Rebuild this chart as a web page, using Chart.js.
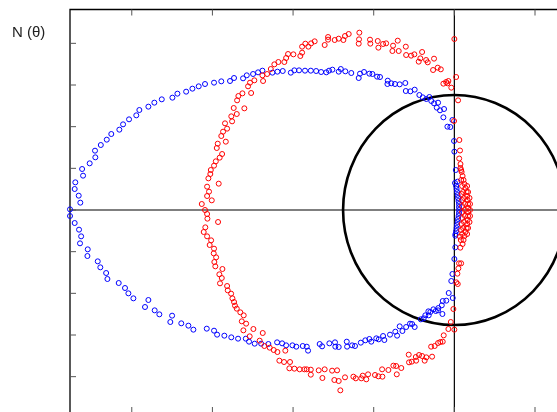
<!DOCTYPE html>
<html>
<head>
<meta charset="utf-8">
<script src="https://cdn.jsdelivr.net/npm/chart.js@4.4.0/dist/chart.umd.min.js"></script>
<style>
  html, body { margin: 0; padding: 0; background: #fff; overflow: hidden; }
  #wrap { position: relative; width: 557px; height: 412px; overflow: hidden; }
  #wrap canvas { position: absolute; left: 0; top: 0; }
  #label { position: absolute; left: 12px; top: 24px; font: 15px "Liberation Sans", Arial, sans-serif; line-height: 15px; color: #222; white-space: nowrap; }
</style>
</head>
<body>
<div id="wrap">
  <canvas id="c" width="640" height="420"></canvas>
  <div id="label">N (θ)</div>
</div>
<script>
// blue measurement (real / imaginary part)
const blueRe = [
  0.029,0.029,0.029,0.026,0.023,0.020,0.017,0.014,0.011,0.004,
  0.019,0.009,0.000,-0.002,-0.012,-0.025,-0.043,-0.068,-0.064,-0.089,
  -0.109,-0.101,-0.126,-0.143,-0.155,-0.174,-0.196,-0.217,-0.246,-0.273,
  -0.301,-0.304,-0.339,-0.368,-0.391,-0.415,-0.413,-0.461,-0.479,-0.508,
  -0.527,-0.560,-0.585,-0.593,-0.639,-0.676,-0.704,-0.717,-0.756,-0.777,
  -0.794,-0.826,-0.857,-0.890,-0.926,-0.963,-0.992,-1.014,-1.064,-1.097,
  -1.128,-1.190,-1.217,-1.248,-1.287,-1.310,-1.366,-1.391,-1.445,-1.490,
  -1.546,-1.585,-1.624,-1.663,-1.717,-1.748,-1.814,-1.860,-1.897,-1.953,
  -1.972,-2.017,-2.054,-2.077,-2.127,-2.155,-2.192,-2.228,-2.226,-2.261,
  -2.308,-2.302,-2.350,-2.354,-2.329,-2.319,-2.383,
  -2.383,-2.354,-2.327,-2.314,-2.321,-2.273,-2.275,-2.211,-2.195,-2.159,
  -2.151,-2.081,-2.042,-2.021,-1.990,-1.897,-1.918,-1.858,-1.829,-1.750,
  -1.761,-1.693,-1.649,-1.618,-1.535,-1.490,-1.471,-1.426,-1.383,-1.341,
  -1.293,-1.273,-1.238,-1.198,-1.153,-1.099,-1.068,-1.043,-1.004,-0.980,
  -0.940,-0.915,-0.907,-0.835,-0.820,-0.775,-0.740,-0.738,-0.717,-0.665,
  -0.667,-0.634,-0.616,-0.580,-0.552,-0.527,-0.515,-0.484,-0.469,-0.442,
  -0.434,-0.399,-0.366,-0.355,-0.322,-0.339,-0.299,-0.275,-0.262,-0.246,
  -0.208,-0.190,-0.159,-0.180,-0.161,-0.149,-0.130,-0.115,-0.101,-0.074,
  -0.099,-0.078,-0.072,-0.050,-0.010,-0.035,-0.019,-0.012,0.000,0.006,
  0.006,0.007,0.011,0.014,0.017,0.020,0.023,0.026,0.029
];
const blueIm = [
  0.000,0.018,0.036,0.054,0.072,0.090,0.108,0.126,0.144,0.162,
  0.170,0.240,0.350,0.414,0.540,0.498,0.500,0.556,0.606,0.598,
  0.614,0.644,0.640,0.654,0.678,0.666,0.676,0.690,0.722,0.712,
  0.714,0.762,0.754,0.756,0.760,0.756,0.776,0.798,0.800,0.816,
  0.818,0.828,0.818,0.792,0.822,0.832,0.846,0.830,0.842,0.836,
  0.826,0.828,0.834,0.836,0.836,0.838,0.838,0.824,0.834,0.830,
  0.824,0.836,0.826,0.816,0.808,0.790,0.792,0.774,0.772,0.764,
  0.756,0.742,0.728,0.710,0.698,0.674,0.664,0.644,0.620,0.600,
  0.568,0.544,0.514,0.482,0.456,0.422,0.390,0.356,0.316,0.280,
  0.246,0.206,0.166,0.126,0.086,0.044,0.004,
  -0.036,-0.078,-0.118,-0.158,-0.200,-0.236,-0.276,-0.308,-0.344,-0.378,
  -0.414,-0.438,-0.468,-0.500,-0.530,-0.540,-0.582,-0.602,-0.626,-0.634,
  -0.672,-0.680,-0.694,-0.718,-0.712,-0.724,-0.748,-0.754,-0.764,-0.772,
  -0.772,-0.790,-0.802,-0.802,-0.804,-0.794,-0.800,-0.812,-0.812,-0.820,
  -0.816,-0.820,-0.844,-0.804,-0.818,-0.800,-0.794,-0.820,-0.822,-0.820,
  -0.790,-0.812,-0.816,-0.796,-0.782,-0.774,-0.790,-0.770,-0.776,-0.756,
  -0.780,-0.748,-0.730,-0.754,-0.726,-0.698,-0.702,-0.682,-0.684,-0.702,
  -0.656,-0.650,-0.632,-0.632,-0.608,-0.612,-0.596,-0.606,-0.602,-0.624,
  -0.588,-0.572,-0.546,-0.544,-0.528,-0.498,-0.426,-0.384,-0.294,-0.224,
  -0.154,-0.144,-0.126,-0.108,-0.090,-0.072,-0.054,-0.036,-0.018
];

// red measurement (real / imaginary part)
const redRe = [
  0.038,0.045,0.051,0.057,0.063,0.069,0.076,0.079,0.082,0.085,
  0.085,0.085,0.085,0.082,0.079,0.076,0.069,0.063,0.057,0.051,
  0.042,0.048,0.054,0.060,0.066,0.066,0.066,0.060,0.054,0.048,
  0.079,0.085,0.094,0.097,0.097,0.097,0.094,0.085,0.079,
  0.045,0.048,0.048,0.048,0.048,0.045,0.042,
  0.042,0.038,0.030,0.035,0.031,-0.002,0.023,0.011,0.000,
  -0.019,-0.043,-0.037,-0.051,-0.068,-0.084,-0.103,-0.132,-0.126,-0.165,
  -0.175,-0.211,-0.200,-0.221,-0.248,-0.268,-0.299,-0.301,-0.345,-0.384,
  -0.351,-0.380,-0.423,-0.442,-0.471,-0.475,-0.521,-0.523,-0.591,-0.593,
  -0.589,-0.655,-0.678,-0.688,-0.717,-0.742,-0.783,-0.783,-0.804,-0.866,
  -0.888,-0.924,-0.905,-0.944,-0.944,-0.955,-0.998,-1.031,-1.043,-1.054,
  -1.091,-1.116,-1.138,-1.161,-1.190,-1.186,-1.240,-1.267,-1.279,-1.260,
  -1.314,-1.339,-1.347,-1.302,-1.368,-1.349,-1.383,-1.378,-1.422,-1.409,
  -1.434,-1.445,-1.417,-1.467,-1.473,-1.440,-1.455,-1.479,-1.490,-1.510,
  -1.513,-1.525,-1.461,-1.533,-1.521,-1.533,-1.504,-1.566,-1.546,
  -1.533,-1.531,-1.465,-1.544,-1.554,-1.533,-1.508,-1.517,-1.490,-1.492,
  -1.477,-1.488,-1.482,-1.438,-1.457,-1.442,-1.453,-1.409,-1.405,-1.384,
  -1.376,-1.366,-1.360,-1.349,-1.327,-1.306,-1.318,-1.291,-1.308,-1.246,
  -1.269,-1.188,-1.207,-1.178,-1.145,-1.120,-1.097,-1.048,-1.085,-1.056,
  -1.019,-1.023,-0.992,-0.959,-0.930,-0.915,-0.890,-0.890,-0.841,-0.818,
  -0.804,-0.758,-0.727,-0.744,-0.717,-0.707,-0.678,-0.626,-0.611,-0.577,
  -0.568,-0.546,-0.535,-0.492,-0.471,-0.446,-0.448,-0.409,-0.378,-0.361,
  -0.357,-0.329,-0.283,-0.281,-0.264,-0.239,-0.237,-0.219,-0.200,-0.184,
  -0.174,-0.138,-0.144,-0.122,-0.101,-0.087,-0.072,-0.066,-0.037,0.000,
  -0.022,-0.006,0.012,0.021,0.019,0.025,0.029,0.042,0.037,0.040,
  0.035
];
const redIm = [
  0.252,0.228,0.204,0.180,0.156,0.132,0.108,0.084,0.060,0.036,
  0.012,-0.012,-0.036,-0.060,-0.084,-0.108,-0.132,-0.156,-0.180,-0.204,
  0.180,0.144,0.108,0.072,0.036,0.000,-0.036,-0.072,-0.108,-0.144,
  0.144,0.108,0.072,0.036,0.000,-0.036,-0.072,-0.108,-0.144,
  0.096,0.060,0.024,-0.012,-0.048,-0.084,-0.120,
  0.240,0.276,0.309,0.357,0.420,0.534,0.658,0.798,1.026,
  0.734,0.760,0.774,0.768,0.758,0.844,0.854,0.840,0.908,0.886,
  0.900,0.910,0.948,0.890,0.934,0.926,0.930,0.980,0.954,0.954,
  1.016,0.986,1.000,0.996,0.974,1.014,0.998,1.022,1.024,0.998,
  1.064,1.056,1.044,1.020,1.028,1.020,1.038,1.022,0.990,1.012,
  1.000,0.998,0.980,0.980,0.944,0.924,0.934,0.936,0.912,0.888,
  0.888,0.874,0.846,0.816,0.808,0.774,0.778,0.764,0.742,0.702,
  0.700,0.684,0.658,0.610,0.612,0.576,0.562,0.532,0.520,0.488,
  0.470,0.444,0.410,0.398,0.372,0.336,0.314,0.292,0.266,0.240,
  0.216,0.190,0.158,0.140,0.110,0.084,0.058,0.036,0.000,
  -0.024,-0.052,-0.072,-0.104,-0.132,-0.158,-0.182,-0.210,-0.232,-0.260,
  -0.284,-0.312,-0.338,-0.354,-0.386,-0.408,-0.440,-0.456,-0.482,-0.502,
  -0.530,-0.552,-0.574,-0.592,-0.614,-0.632,-0.668,-0.682,-0.722,-0.714,
  -0.758,-0.738,-0.784,-0.816,-0.826,-0.840,-0.852,-0.844,-0.904,-0.912,
  -0.912,-0.950,-0.952,-0.956,-0.956,-0.956,-0.958,-0.988,-0.962,-1.008,
  -0.956,-0.964,-0.962,-1.020,-1.026,-1.082,-1.004,-1.000,-1.010,-1.010,
  -0.994,-1.016,-0.986,-0.990,-0.998,-1.000,-0.956,-0.960,-0.934,-0.936,
  -0.986,-0.948,-0.868,-0.914,-0.910,-0.882,-0.904,-0.870,-0.876,-0.904,
  -0.884,-0.880,-0.820,-0.816,-0.798,-0.792,-0.790,-0.752,-0.714,-0.718,
  -0.672,-0.594,-0.434,-0.444,-0.382,-0.350,-0.320,-0.320,-0.226,-0.180,
  -0.160
];

// axis ranges, tick positions (no labels shown) and the reference circle
const xRange = [-2.383, 0.903];
const yRange = [-1.218, 1.203];
const xTicks = [-2, -1.5, -1, -0.5, 0, 0.5];
const yTicks = [-1, -0.75, -0.5, -0.25, 0, 0.25, 0.5, 0.75, 1];
const circleRadius = 0.69;

const toPoints = (re, im) => re.map((v, i) => ({ x: v, y: im[i] }));

const framePlugin = {
    id: 'frame',
    beforeDatasetsDraw(chart) {
        const { ctx, chartArea: { left, right, top, bottom }, scales: { x, y } } = chart;
        const x0 = x.getPixelForValue(0);
        const y0 = y.getPixelForValue(0);
        ctx.save();

        // zero lines
        ctx.strokeStyle = '#000';
        ctx.lineWidth = 1.2;
        ctx.beginPath();
        ctx.moveTo(x0, top); ctx.lineTo(x0, bottom);
        ctx.moveTo(left, y0); ctx.lineTo(right, y0);
        ctx.stroke();

        // circle
        const rx = x.getPixelForValue(circleRadius) - x0;
        const ry = y0 - y.getPixelForValue(circleRadius);
        ctx.lineWidth = 2.6;
        ctx.beginPath();
        ctx.ellipse(x0, y0, rx, ry, 0, 0, Math.PI * 2);
        ctx.stroke();

        // frame
        ctx.lineWidth = 1.3;
        ctx.beginPath();
        ctx.moveTo(right, top); ctx.lineTo(left, top);
        ctx.lineTo(left, bottom); ctx.lineTo(right, bottom);
        ctx.stroke();

        // inward ticks
        ctx.strokeStyle = '#555';
        ctx.lineWidth = 1;
        ctx.beginPath();
        xTicks.forEach(v => {
            const px = x.getPixelForValue(v);
            ctx.moveTo(px, top); ctx.lineTo(px, top + 6);
            ctx.moveTo(px, bottom); ctx.lineTo(px, bottom - 6);
        });
        yTicks.forEach(v => {
            const py = y.getPixelForValue(v);
            ctx.moveTo(left, py); ctx.lineTo(left + 6, py);
        });
        ctx.stroke();

        ctx.restore();
    }
};

new Chart(document.getElementById('c'), {
    type: 'scatter',
    data: {
        datasets: [
            {
                label: 'red',
                data: toPoints(redRe, redIm),
                borderColor: '#ff0000',
                backgroundColor: 'rgba(0,0,0,0)',
                pointRadius: 2.5,
                borderWidth: 1,
                order: 1,
                clip: false
            },
            {
                label: 'blue',
                data: toPoints(blueRe, blueIm),
                borderColor: '#0000ff',
                backgroundColor: 'rgba(0,0,0,0)',
                pointRadius: 2.5,
                borderWidth: 1,
                order: 2,
                clip: false
            }
        ]
    },
    options: {
        responsive: false,
        animation: false,
        devicePixelRatio: 1,
        events: [],
        layout: { padding: { left: 70, top: 9.5, right: 40, bottom: 7 } },
        plugins: {
            legend: { display: false },
            tooltip: { enabled: false }
        },
        scales: {
            x: { type: 'linear', display: false, min: xRange[0], max: xRange[1] },
            y: { type: 'linear', display: false, min: yRange[0], max: yRange[1] }
        }
    },
    plugins: [framePlugin]
});
</script>
</body>
</html>
